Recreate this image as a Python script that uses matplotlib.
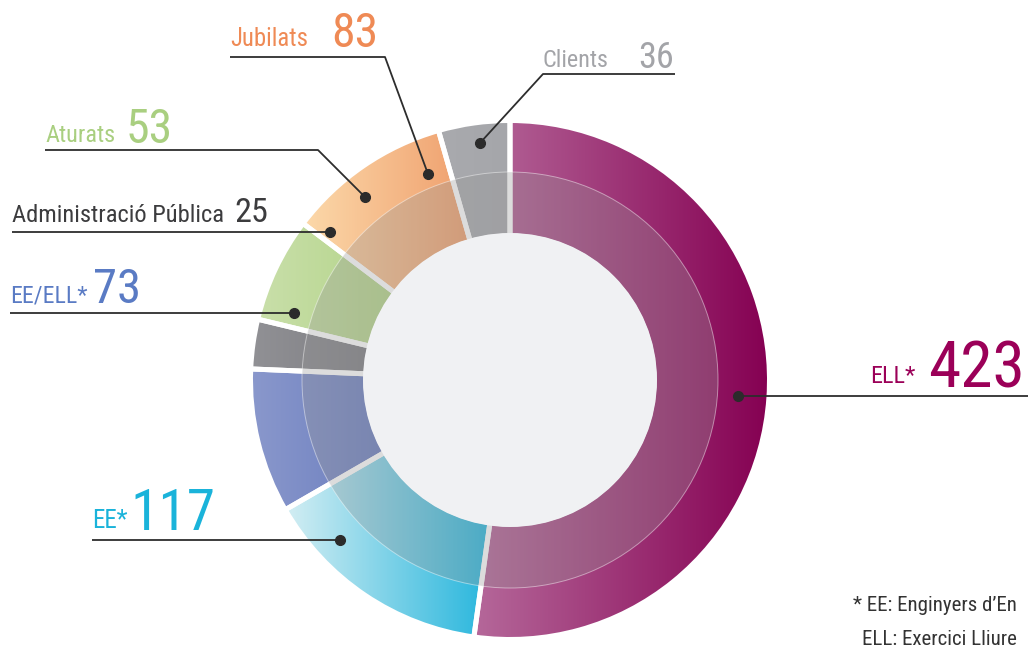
import matplotlib
matplotlib.use("Agg")
import matplotlib.pyplot as plt
import numpy as np
from matplotlib import font_manager
from matplotlib.colors import LinearSegmentedColormap
from matplotlib.patches import Annulus, Circle

# data, clockwise from 12 o'clock
labels = ['ELL*', 'EE*', 'EE/ELL*', 'Administració Pública', 'Aturats', 'Jubilats', 'Clients']
values = [423, 117, 73, 25, 53, 83, 36]
grad_left = ['#b5689a', '#d4eef3', '#8a98cc', '#919195', '#c9dfaa', '#fcd9aa', '#a9aaae']
grad_right = ['#850052', '#27b6dd', '#6a7dbe', '#7e7e83', '#b3d488', '#ef9e6c', '#a5a6aa']
text_colors = ['#9b0058', '#1ab3da', '#5a7bc4', '#3c3c3e', '#a9cf80', '#ef8a55', '#a3a4a8']

# the footnote runs off the right edge in the original, only this much shows
footnote = ["* EE: Enginyers d\u2019En", "ELL: Exercici Lliure"]

# use a condensed face when one is installed, otherwise Roboto
names = set(f.name for f in font_manager.fontManager.ttflist)
narrow = 'Roboto'
for cand in ['Roboto Condensed', 'Liberation Sans Narrow', 'Open Sans Condensed',
             'Noto Sans Condensed', 'DejaVu Sans Condensed']:
    if cand in names:
        narrow = cand
        break
plt.rcParams['font.family'] = [narrow, 'DejaVu Sans']

W, H = 1028, 647
cx, cy = 510, 380
r_out, r_in, r_band = 257, 147, 208

fig = plt.figure(figsize=(W / 100, H / 100), dpi=100)
ax = fig.add_axes([0, 0, 1, 1])

# y is inverted, so counterclockwise in data = clockwise on screen
wedges, _ = ax.pie(values, center=(cx, cy), radius=r_out + 2.5, startangle=-90,
                   counterclock=True, frame=True,
                   wedgeprops=dict(width=r_out + 2.5 - (r_in - 3), facecolor='none',
                                   edgecolor='white', linewidth=3.6, zorder=3))

# horizontal gradient inside every wedge
grad = np.linspace(0, 1, 256).reshape(1, -1)
for w, c0, c1 in zip(wedges, grad_left, grad_right):
    bb = w.get_path().get_extents()
    cmap = LinearSegmentedColormap.from_list('g', [c0, c1])
    im = ax.imshow(grad, cmap=cmap, extent=[bb.x0, bb.x1, bb.y1, bb.y0],
                   aspect='auto', interpolation='bilinear', zorder=2)
    im.set_clip_path(w)

# darker inner band and hole
ax.add_patch(Annulus((cx, cy), r_band, r_band - r_in + 3, facecolor=(0.59, 0.59, 0.59, 0.33),
                     edgecolor=(1, 1, 1, 0.45), linewidth=0.7, zorder=4))
ax.add_patch(Circle((cx, cy), r_in, facecolor='#f0f1f3', edgecolor='none', zorder=5))

# label (x, baseline y, size, width in px), number (same), leader line path
layout = {
    'ELL*': dict(lab=(870, 383, 18, 45), num=(928, 387, 50, 97), line=[(1028, 396), (738, 396)]),
    'EE*': dict(lab=(92, 528, 18, 36), num=(130, 530, 45, 85), line=[(92, 540), (340, 540)]),
    'EE/ELL*': dict(lab=(10, 302, 19, 77), num=(93, 303, 35, 48), line=[(10, 313), (294, 313)]),
    'Administració Pública': dict(lab=(12, 222, 18, 212), num=(234, 222, 25, 34),
                                  line=[(12, 232), (330, 232)]),
    'Aturats': dict(lab=(45, 142, 20, 70), num=(126, 143, 36, 47),
                    line=[(45, 150), (318, 150), (365, 197)]),
    'Jubilats': dict(lab=(230, 46, 19, 78), num=(331, 47, 35, 47),
                     line=[(230, 57), (385, 57), (428, 174)]),
    'Clients': dict(lab=(543, 67, 19, 66), num=(638, 68, 26, 37),
                    line=[(675, 74), (543, 74), (480, 143)]),
}

fitted = []
for name, val, col in zip(labels, values, text_colors):
    p = layout[name]
    for s, spec in [(name, p['lab']), (str(val), p['num'])]:
        x, y, size, width = spec
        t = ax.text(x, y, s, color=col, fontsize=size, ha='left', va='baseline', zorder=7)
        fitted.append((t, width))
    xs, ys = zip(*p['line'])
    ax.plot(xs, ys, color='#2d2d2d', lw=1.3, zorder=6, solid_capstyle='butt')
    ax.plot(xs[-1], ys[-1], 'o', color='#2b2b2b', ms=7, zorder=6)

t1 = ax.text(853, 611, footnote[0], color='#333333', fontsize=15, ha='left', va='baseline', zorder=7)
t2 = ax.text(862, 645, footnote[1], color='#333333', fontsize=15, ha='left', va='baseline', zorder=7)
fitted.append((t1, 170))
fitted.append((t2, 158))

ax.set_xlim(0, W)
ax.set_ylim(H, 0)
ax.set_aspect('auto')
ax.axis('off')

# shrink any text that comes out wider than in the original
fig.canvas.draw()
rend = fig.canvas.get_renderer()
for t, width in fitted:
    got = t.get_window_extent(rend).width
    if got > width:
        t.set_fontsize(t.get_fontsize() * width / got)

fig.savefig('out.png', dpi=100, facecolor='white')
